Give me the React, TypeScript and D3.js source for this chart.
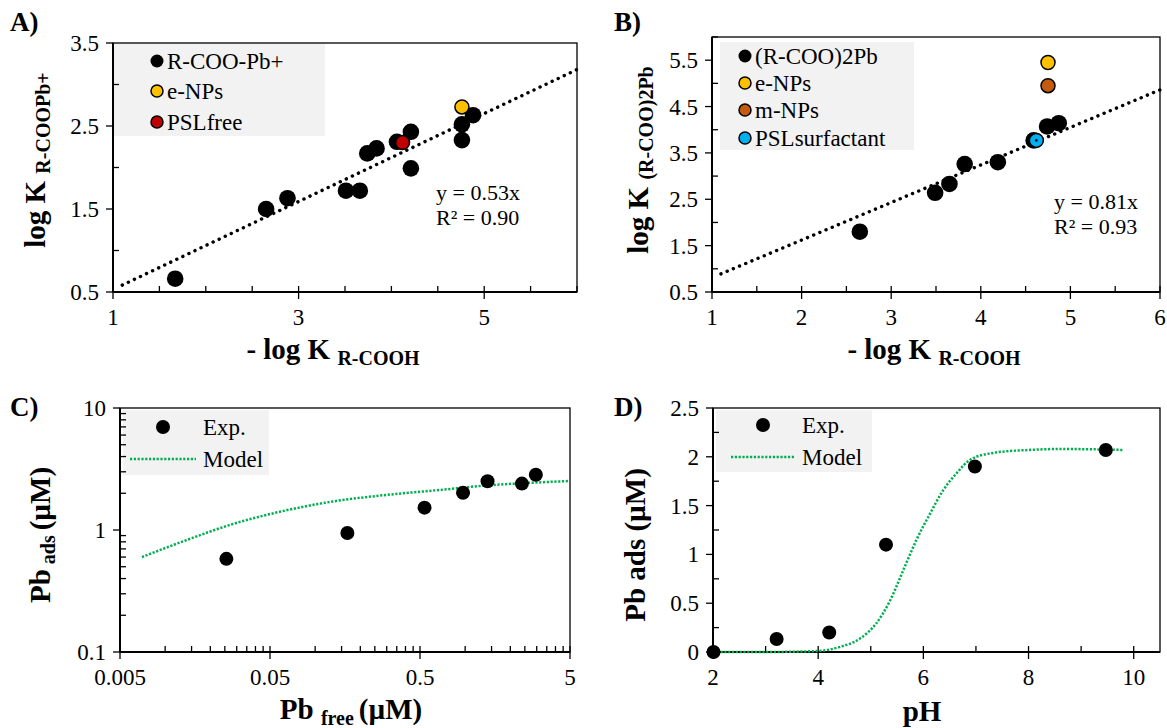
import React from "react";
import * as d3 from "d3";

// ---- panel A: log K R-COOPb+ vs -log K R-COOH
const aAcid = [1.67, 2.65, 2.88, 3.51, 3.66, 3.74, 3.84, 4.06, 4.21, 4.21, 4.76, 4.76, 4.88];
const aLogK = [0.66, 1.5, 1.63, 1.72, 1.72, 2.17, 2.23, 2.31, 2.43, 1.99, 2.33, 2.52, 2.63];
const aENPs = [4.76, 2.73];
const aPSLfree = [4.12, 2.3];
const aSlope = 0.53;

// ---- panel B: log K (R-COO)2Pb vs -log K R-COOH
const bAcid = [2.65, 3.49, 3.65, 3.82, 4.19, 4.59, 4.74, 4.87];
const bLogK = [1.8, 2.64, 2.83, 3.26, 3.3, 3.77, 4.07, 4.14];
const bENPs = [4.75, 5.45];
const bMNPs = [4.75, 4.95];
const bPSLsurf = [4.62, 3.77];
const bSlope = 0.81;

// ---- panel C: isotherm (log-log)
const cFree = [0.0256, 0.164, 0.536, 0.968, 1.41, 2.39, 2.96];
const cAds = [0.58, 0.945, 1.525, 2.02, 2.51, 2.4, 2.84];
const cModelFree = [0.007, 0.014, 0.027, 0.058, 0.13, 0.3, 0.68, 1.4, 2.3, 5];
const cModelAds = [0.6, 0.83, 1.1, 1.41, 1.71, 1.94, 2.13, 2.32, 2.41, 2.52];

// ---- panel D: pH edge
const dPH = [2.01, 3.21, 4.21, 5.29, 6.98, 9.47];
const dAds = [0, 0.133, 0.2, 1.1, 1.9, 2.07];
const dModelPH = [2, 3, 4, 4.4, 4.8, 5.1, 5.37, 5.62, 5.87, 6.13, 6.38, 6.63, 6.89, 7.33, 8, 8.6, 9.8];
const dModelAds = [0, 0, 0.01, 0.05, 0.14, 0.29, 0.53, 0.84, 1.15, 1.42, 1.66, 1.83, 1.97, 2.04, 2.07, 2.08, 2.07];

const FONT = '"Liberation Serif", "Times New Roman", "DejaVu Serif", serif';
const GREEN = "#00B050";
const LEGEND_BG = "#f2f2f2";

const fmtNum = (d: number) => String(d);

// draws frame, axis lines, ticks and tick labels for one panel
const axes = (
  x: any,
  y: any,
  xMajor: number[],
  xMinor: number[],
  yMajor: number[],
  yMinor: number[]
) => {
  const [x0, x1] = x.range();
  const [y1, y0] = y.range();
  return (
    <g>
      <rect x={x0} y={y0} width={x1 - x0} height={y1 - y0} fill="none" stroke="#000" strokeWidth={1.3} />
      <line x1={x0} x2={x1} y1={y1} y2={y1} stroke="#000" strokeWidth={2} />
      <line x1={x0} x2={x0} y1={y0} y2={y1} stroke="#000" strokeWidth={2} />
      {xMajor.map((d) => (
        <line key={"xM" + d} x1={x(d)} x2={x(d)} y1={y1 - 6} y2={y1 + 7} stroke="#000" strokeWidth={1.3} />
      ))}
      {xMinor.map((d) => (
        <line key={"xm" + d} x1={x(d)} x2={x(d)} y1={y1 - 6} y2={y1} stroke="#000" strokeWidth={1.3} />
      ))}
      {yMajor.map((d) => (
        <line key={"yM" + d} x1={x0 - 7} x2={x0} y1={y(d)} y2={y(d)} stroke="#000" strokeWidth={1.3} />
      ))}
      {yMinor.map((d) => (
        <line key={"ym" + d} x1={x0} x2={x0 + 6} y1={y(d)} y2={y(d)} stroke="#000" strokeWidth={1.3} />
      ))}
      {xMajor.map((d) => (
        <text key={"xl" + d} x={x(d)} y={y1 + 33} textAnchor="middle" fontSize={23}>
          {fmtNum(d)}
        </text>
      ))}
      {yMajor.map((d) => (
        <text key={"yl" + d} x={x0 - 14} y={y(d)} dy="0.35em" textAnchor="end" fontSize={23}>
          {fmtNum(d)}
        </text>
      ))}
    </g>
  );
};

const dottedFit = (x: any, y: any, slope: number, from: number, to: number) => {
  const line = d3
    .line<number>()
    .x((d) => x(d))
    .y((d) => y(slope * d));
  return (
    <path d={line([from, to]) || ""} fill="none" stroke="#000" strokeWidth={3.4} strokeDasharray="0.1 6.6" strokeLinecap="round" />
  );
};

const App = () => {
  // ---------- A
  const xA = d3.scaleLinear().domain([1, 6]).range([113, 577]);
  const yA = d3.scaleLinear().domain([0.5, 3.5]).range([292, 43]);
  // ---------- B
  const xB = d3.scaleLinear().domain([1, 6]).range([712, 1160]);
  const yB = d3.scaleLinear().domain([0.5, 6]).range([292, 37]);
  // ---------- C
  const xC = d3.scaleLog().domain([0.005, 5]).range([120, 570]);
  const yC = d3.scaleLog().domain([0.1, 10]).range([652, 408]);
  // ---------- D
  const xD = d3.scaleLinear().domain([2, 10.5]).range([713, 1160]);
  const yD = d3.scaleLinear().domain([0, 2.5]).range([652, 408]);

  const logMinor = (lo: number, decades: number) => {
    const out: number[] = [];
    for (let k = 0; k < decades; k++) {
      const base = lo * Math.pow(10, k);
      for (let m = 2; m <= 9; m++) out.push(+(base * m).toPrecision(3));
    }
    return out;
  };

  const modelC = d3
    .line<number>()
    .x((_, i) => xC(cModelFree[i]))
    .y((d) => yC(d))
    .curve(d3.curveMonotoneX);
  const modelD = d3
    .line<number>()
    .x((_, i) => xD(dModelPH[i]))
    .y((d) => yD(d))
    .curve(d3.curveMonotoneX);

  const boldTitle = { fontWeight: 700 } as const;

  return (
    <svg
      width={1167}
      height={728}
      style={{ position: "absolute", left: 0, top: 0, background: "#fff", fontFamily: FONT }}
      fontFamily={FONT}
    >
      {/* ================= A ================= */}
      <text x={10} y={31} fontSize={27} style={boldTitle}>A)</text>
      <rect x={113} y={43} width={212} height={93} fill={LEGEND_BG} />
      {axes(xA, yA, [1, 3, 5], [1.5, 2, 2.5, 3.5, 4, 4.5, 5.5, 6], [0.5, 1.5, 2.5, 3.5], [1, 2, 3])}
      {dottedFit(xA, yA, aSlope, 1.1, 6)}
      {aAcid.map((v, i) => (
        <circle key={"a" + i} cx={xA(v)} cy={yA(aLogK[i])} r={8.3} fill="#000" />
      ))}
      <circle cx={xA(aPSLfree[0])} cy={yA(aPSLfree[1])} r={7} fill="#C00000" stroke="#000" strokeWidth={1.5} />
      <circle cx={xA(aENPs[0])} cy={yA(aENPs[1])} r={7} fill="#FFC000" stroke="#000" strokeWidth={1.5} />
      <g fontSize={23}>
        <circle cx={157} cy={61} r={6.5} fill="#000" />
        <text x={167} y={69}>R-COO-Pb+</text>
        <circle cx={157} cy={91} r={6} fill="#FFC000" stroke="#000" strokeWidth={1.5} />
        <text x={167} y={99}>e-NPs</text>
        <circle cx={157} cy={122} r={6} fill="#C00000" stroke="#000" strokeWidth={1.5} />
        <text x={167} y={130}>PSLfree</text>
      </g>
      <text x={436} y={200} fontSize={22}>y = 0.53x</text>
      <text x={436} y={225} fontSize={22}>R² = 0.90</text>
      <text transform="translate(45,160) rotate(-90)" textAnchor="middle" style={boldTitle}>
        <tspan fontSize={29}>log K </tspan>
        <tspan fontSize={20} dy={5}>R-COOPb+</tspan>
      </text>
      <text x={333} y={359} textAnchor="middle" style={boldTitle}>
        <tspan fontSize={29}>- log K </tspan>
        <tspan fontSize={20} dy={6}>R-COOH</tspan>
      </text>

      {/* ================= B ================= */}
      <text x={614} y={31} fontSize={27} style={boldTitle}>B)</text>
      <rect x={720} y={42} width={194} height={108} fill={LEGEND_BG} />
      {axes(xB, yB, [1, 2, 3, 4, 5, 6], [1.5, 2.5, 3.5, 4.5, 5.5], [0.5, 1.5, 2.5, 3.5, 4.5, 5.5], [1, 2, 3, 4, 5, 6])}
      {dottedFit(xB, yB, bSlope, 1.1, 6)}
      {bAcid.map((v, i) => (
        <circle key={"b" + i} cx={xB(v)} cy={yB(bLogK[i])} r={8.3} fill="#000" />
      ))}
      <circle cx={xB(bPSLsurf[0])} cy={yB(bPSLsurf[1])} r={7} fill="#00B0F0" stroke="#000" strokeWidth={1.5} />
      <circle cx={xB(bPSLsurf[0])} cy={yB(bPSLsurf[1])} r={1.3} fill="#000" />
      <circle cx={xB(bENPs[0])} cy={yB(bENPs[1])} r={7} fill="#FFC000" stroke="#000" strokeWidth={1.5} />
      <circle cx={xB(bMNPs[0])} cy={yB(bMNPs[1])} r={7} fill="#C55A11" stroke="#000" strokeWidth={1.5} />
      <g fontSize={23}>
        <circle cx={745} cy={56} r={6.5} fill="#000" />
        <text x={755} y={64}>(R-COO)2Pb</text>
        <circle cx={745} cy={83} r={6} fill="#FFC000" stroke="#000" strokeWidth={1.5} />
        <text x={755} y={91}>e-NPs</text>
        <circle cx={745} cy={110} r={6} fill="#C55A11" stroke="#000" strokeWidth={1.5} />
        <text x={755} y={118}>m-NPs</text>
        <circle cx={745} cy={138} r={6} fill="#00B0F0" stroke="#000" strokeWidth={1.5} />
        <text x={755} y={146}>PSLsurfactant</text>
      </g>
      <text x={1054} y={209} fontSize={22}>y = 0.81x</text>
      <text x={1054} y={234} fontSize={22}>R² = 0.93</text>
      <text transform="translate(648,160) rotate(-90)" textAnchor="middle" style={boldTitle}>
        <tspan fontSize={29}>log K </tspan>
        <tspan fontSize={20} dy={5}>(R-COO)2Pb</tspan>
      </text>
      <text x={934} y={359} textAnchor="middle" style={boldTitle}>
        <tspan fontSize={29}>- log K </tspan>
        <tspan fontSize={20} dy={6}>R-COOH</tspan>
      </text>

      {/* ================= C ================= */}
      <text x={10} y={416} fontSize={27} style={boldTitle}>C)</text>
      <rect x={123} y={410} width={146} height={65} fill={LEGEND_BG} />
      {axes(xC, yC, [0.005, 0.05, 0.5, 5], logMinor(0.005, 3), [0.1, 1, 10], logMinor(0.1, 2))}
      <path d={modelC(cModelAds) || ""} fill="none" stroke={GREEN} strokeWidth={2.5} strokeDasharray="2.2 1.6" />
      {cFree.map((v, i) => (
        <circle key={"c" + i} cx={xC(v)} cy={yC(cAds[i])} r={7} fill="#000" />
      ))}
      <g fontSize={23}>
        <circle cx={163} cy={427} r={7} fill="#000" />
        <text x={203} y={435}>Exp.</text>
        <line x1={130} x2={196} y1={459} y2={459} stroke={GREEN} strokeWidth={2.5} strokeDasharray="2.2 1.6" />
        <text x={203} y={467}>Model</text>
      </g>
      <text transform="translate(50,535) rotate(-90)" textAnchor="middle" style={boldTitle}>
        <tspan fontSize={29}>Pb</tspan>
        <tspan fontSize={20} dy={5}> ads </tspan>
        <tspan fontSize={29} dy={-5}>(µM)</tspan>
      </text>
      <text x={351} y={719} textAnchor="middle" style={boldTitle}>
        <tspan fontSize={29}>Pb </tspan>
        <tspan fontSize={20} dy={6}>free </tspan>
        <tspan fontSize={29} dy={-6}>(µM)</tspan>
      </text>

      {/* ================= D ================= */}
      <text x={614} y={416} fontSize={27} style={boldTitle}>D)</text>
      <rect x={716} y={410} width={156} height={62} fill={LEGEND_BG} />
      {axes(xD, yD, [2, 4, 6, 8, 10], [3, 5, 7, 9], [0, 0.5, 1, 1.5, 2, 2.5], [0.25, 0.75, 1.25, 1.75, 2.25])}
      <path d={modelD(dModelAds) || ""} fill="none" stroke={GREEN} strokeWidth={2.5} strokeDasharray="2.2 1.6" />
      {dPH.map((v, i) => (
        <circle key={"d" + i} cx={xD(v)} cy={yD(dAds[i])} r={7} fill="#000" />
      ))}
      <g fontSize={23}>
        <circle cx={763} cy={425} r={7} fill="#000" />
        <text x={802} y={433}>Exp.</text>
        <line x1={731} x2={795} y1={457} y2={457} stroke={GREEN} strokeWidth={2.5} strokeDasharray="2.2 1.6" />
        <text x={802} y={465}>Model</text>
      </g>
      <text transform="translate(645,545) rotate(-90)" textAnchor="middle" fontSize={29} style={boldTitle}>
        Pb ads (µM)
      </text>
      <text x={922} y={721} textAnchor="middle" fontSize={29} style={boldTitle}>
        pH
      </text>
    </svg>
  );
};

export default App;
